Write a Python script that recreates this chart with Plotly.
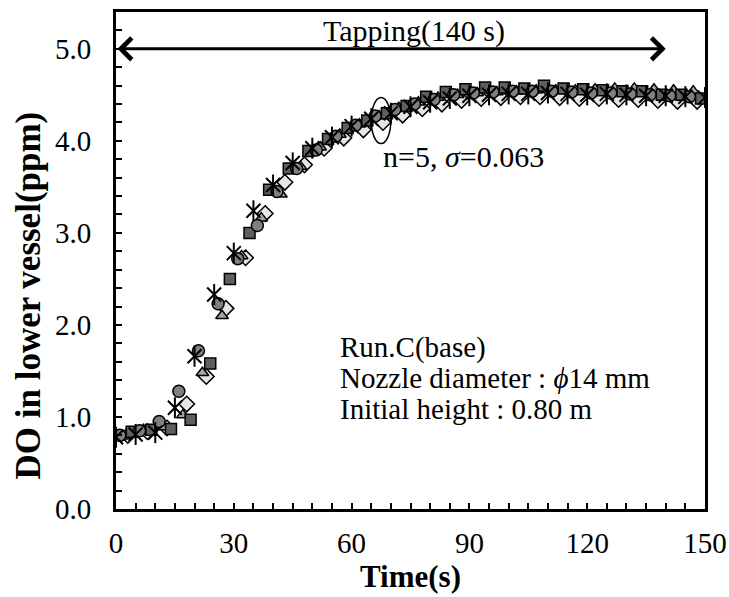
import plotly.graph_objects as go

# Sampling times (s) for the five repeated runs, each logged every 5 s
t_star = list(range(0, 151, 5))
t_circle = list(range(1, 147, 5))
t_square = list(range(4, 150, 5))
t_triangle = list(range(2, 148, 5))
t_diamond = list(range(3, 149, 5))

# Dissolved oxygen in the lower vessel (ppm)
do_star = [0.78, 0.81, 0.83, 1.10, 1.66, 2.33, 2.78, 3.24, 3.52, 3.76, 3.92, 4.04,
           4.16, 4.24, 4.30, 4.37, 4.42, 4.46, 4.49, 4.50, 4.51, 4.51, 4.52, 4.51,
           4.50, 4.51, 4.50, 4.49, 4.49, 4.48, 4.47]
do_circle = [0.80, 0.85, 0.95, 1.28, 1.72, 2.23, 2.72, 3.08, 3.45, 3.70, 3.90, 4.05,
             4.17, 4.27, 4.34, 4.40, 4.45, 4.50, 4.52, 4.53, 4.54, 4.54, 4.54, 4.53,
             4.52, 4.52, 4.51, 4.50, 4.49, 4.48]
do_square = [0.84, 0.86, 0.87, 0.97, 1.58, 2.50, 3.00, 3.47, 3.70, 3.89, 4.02, 4.14,
             4.22, 4.30, 4.38, 4.48, 4.53, 4.56, 4.58, 4.58, 4.57, 4.60, 4.57, 4.56,
             4.55, 4.54, 4.54, 4.50, 4.50, 4.46]
do_triangle = [0.79, 0.86, 0.89, 1.02, 1.48, 2.10, 2.75, 3.16, 3.42, 3.72, 3.93, 4.07,
               4.18, 4.27, 4.36, 4.42, 4.47, 4.50, 4.52, 4.53, 4.54, 4.55, 4.55, 4.55,
               4.56, 4.57, 4.57, 4.56, 4.55, 4.54]
do_diamond = [0.80, 0.84, 0.88, 1.14, 1.44, 2.18, 2.73, 3.21, 3.55, 3.74, 3.92, 4.03,
              4.12, 4.20, 4.28, 4.35, 4.40, 4.44, 4.46, 4.47, 4.48, 4.48, 4.47, 4.46,
              4.46, 4.45, 4.45, 4.44, 4.43, 4.43]

x_ticks = [0, 30, 60, 90, 120, 150]
y_ticks = [0, 1, 2, 3, 4, 5]

tap_duration = 140       # s
tap_level = 5.0          # ppm, height of the tapping arrow
n_runs = 5
sigma = 0.063
condition_lines = ["Run.C(base)",
                   "Nozzle diameter : <i>ϕ</i>14 mm",
                   "Initial height : 0.80 m"]

FONT = "Liberation Serif"
TXT = 29
edge = dict(color="black", width=1.5)

fig = go.Figure()

fig.add_trace(go.Scatter(x=t_diamond, y=do_diamond, mode="markers", name="run 4",
                         marker=dict(symbol="diamond", size=12, color="#e6e6e6", line=edge)))
fig.add_trace(go.Scatter(x=t_triangle, y=do_triangle, mode="markers", name="run 3",
                         marker=dict(symbol="triangle-up", size=11, color="#a6a6a6", line=edge)))
fig.add_trace(go.Scatter(x=t_square, y=do_square, mode="markers", name="run 2",
                         marker=dict(symbol="square", size=11, color="#5f5f5f", line=edge)))
fig.add_trace(go.Scatter(x=t_circle, y=do_circle, mode="markers", name="run 1",
                         marker=dict(symbol="circle", size=12, color="#808080", line=edge)))
# six-armed asterisk: an x plus a vertical stroke
fig.add_trace(go.Scatter(x=t_star, y=do_star, mode="markers", name="run 5",
                         marker=dict(symbol="x-thin-open", size=14, color="black",
                                     line=dict(color="black", width=2))))
fig.add_trace(go.Scatter(x=t_star, y=do_star, mode="markers", showlegend=False,
                         marker=dict(symbol="line-ns-open", size=15, color="black",
                                     line=dict(color="black", width=2))))

# double-headed tapping arrow
fig.add_annotation(x=tap_duration, y=tap_level, ax=0, ay=tap_level,
                   xref="x", yref="y", axref="x", ayref="y", text="",
                   showarrow=True, arrowhead=4, startarrowhead=4, arrowside="end+start",
                   arrowsize=1.4, startarrowsize=1.4, arrowwidth=3, arrowcolor="black")
fig.add_annotation(x=76, y=tap_level, yshift=18, xref="x", yref="y",
                   text=f"Tapping({tap_duration} s)", showarrow=False,
                   font=dict(family=FONT, size=30, color="black"))

# scatter band marker
fig.add_shape(type="circle", xref="x", yref="y", x0=65.0, x1=70.0, y0=3.97, y1=4.47,
              line=dict(color="black", width=1.5))
fig.add_annotation(x=67.5, y=3.83, xref="x", yref="y", xanchor="left",
                   text=f"n={n_runs}, <i>σ</i>={sigma:.3f}", showarrow=False,
                   font=dict(family=FONT, size=30, color="black"))

# test conditions, one line each
for line, yv in zip(condition_lines, [1.75, 1.42, 1.09]):
    fig.add_annotation(x=56.5, y=yv, xref="x", yref="y", xanchor="left", yanchor="middle",
                       showarrow=False, text=line,
                       font=dict(family=FONT, size=TXT, color="black"))

# vertical axis title, set slightly below the plot's centre line
fig.add_annotation(x=-0.149, y=0.43, xref="paper", yref="paper", textangle=-90,
                   xanchor="center", yanchor="middle", showarrow=False,
                   text="<b>DO in lower vessel(ppm)</b>",
                   font=dict(family=FONT, size=35, color="black"))

axis_common = dict(showline=True, linecolor="black", linewidth=3, mirror=True,
                   showgrid=False, zeroline=False, ticks="inside", tickcolor="black",
                   tickwidth=2, ticklen=6, automargin=False,
                   tickfont=dict(family=FONT, size=TXT, color="black"))

fig.update_xaxes(range=[0, 150], tickvals=x_ticks, ticklabelstandoff=6,
                 minor=dict(dtick=5, ticks="inside", ticklen=6, tickwidth=2, tickcolor="black"),
                 title=dict(text="<b>Time(s)</b>", standoff=2,
                            font=dict(family=FONT, size=31, color="black")),
                 **axis_common)
fig.update_yaxes(range=[0, 5.4], tickvals=y_ticks, tickformat=".1f", ticklabelstandoff=16,
                 minor=dict(dtick=0.2, ticks="inside", ticklen=6, tickwidth=2, tickcolor="black"),
                 **axis_common)

fig.update_layout(width=729, height=597, showlegend=False,
                  margin=dict(l=116, r=24, t=12, b=88),
                  plot_bgcolor="white", paper_bgcolor="white",
                  font=dict(family=FONT, color="black"))

fig.write_html("out.html")
